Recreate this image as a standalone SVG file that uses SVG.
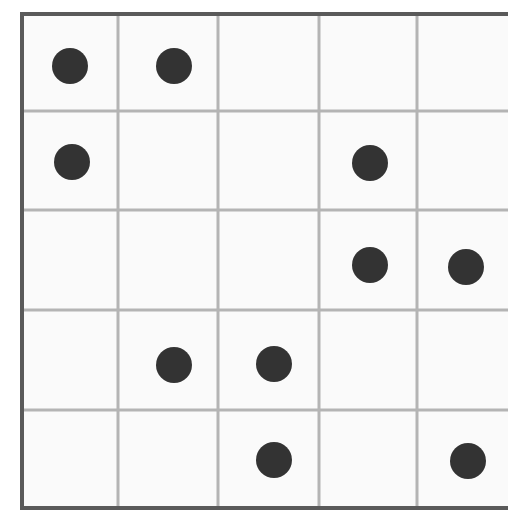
<svg xmlns="http://www.w3.org/2000/svg" width="508" height="517" viewBox="0 0 508 517">
<style>
.grid{stroke:#b4b4b4;stroke-width:3;fill:none}
.border{stroke:#5a5a5a;stroke-width:4;fill:none}
.dot{fill:#333}
</style>
<rect width="508" height="517" fill="#ffffff"/>
<rect x="22" y="14" width="490" height="494" fill="#fafafa"/>
<g id="gridlines" class="grid">
<line x1="118" y1="14" x2="118" y2="508"/>
<line x1="218" y1="14" x2="218" y2="508"/>
<line x1="319" y1="14" x2="319" y2="508"/>
<line x1="417" y1="14" x2="417" y2="508"/>
<line x1="22" y1="111" x2="508" y2="111"/>
<line x1="22" y1="210" x2="508" y2="210"/>
<line x1="22" y1="310" x2="508" y2="310"/>
<line x1="22" y1="410" x2="508" y2="410"/>
</g>
<rect class="border" x="22" y="14" width="490" height="494"/>
<g id="dots" class="dot">
<circle cx="70" cy="66" r="18"/>
<circle cx="174" cy="66" r="18"/>
<circle cx="72" cy="162" r="18"/>
<circle cx="370" cy="163" r="18"/>
<circle cx="370" cy="265" r="18"/>
<circle cx="466" cy="267" r="18"/>
<circle cx="174" cy="365" r="18"/>
<circle cx="274" cy="364" r="18"/>
<circle cx="274" cy="460" r="18"/>
<circle cx="468" cy="461" r="18"/>
</g>
</svg>
